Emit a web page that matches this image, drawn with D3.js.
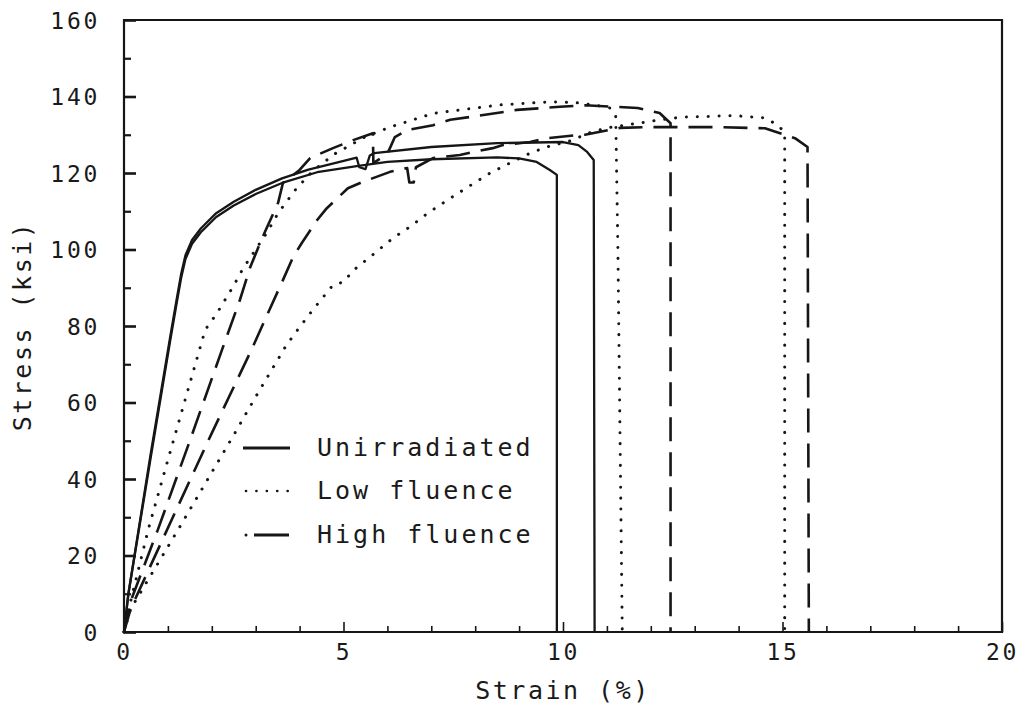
<!DOCTYPE html>
<html>
<head>
<meta charset="utf-8">
<script src="https://cdn.jsdelivr.net/npm/d3@7/dist/d3.min.js"></script>
<style>
  html, body { margin: 0; padding: 0; background: #fff; }
  svg { display: block; }
  .lbl { font-family: "DejaVu Sans Mono", monospace; fill: #1a1a1a; }
</style>
</head>
<body>
<svg id="chart" width="1022" height="714"></svg>
<script>
// Stress-strain curves, two specimens per condition: [strain %, stress ksi]
const seriesNames = ["Unirradiated", "Low fluence", "High fluence"];

const unirradiatedA = [
  [0,0],[0.05,5],[0.1,10],[0.6,45],[1.05,76],[1.2,86],[1.3,92.5],[1.4,97.5],[1.55,101.5],
  [1.75,104.5],[2.1,108.5],[2.5,111.5],[3.0,114.5],[3.6,117.4],[4.4,120.2],[5.3,121.8],
  [6.0,122.9],[7.0,123.6],[8.5,124.1],[9.0,123.8],[9.4,122.9],[9.7,120.8],[9.86,119.5],[9.86,0]
];
const unirradiatedB = [
  [0,0],[0.05,5],[0.1,10],[0.6,46],[1.05,77],[1.2,87],[1.3,93.5],[1.4,98.5],[1.55,102.5],
  [1.75,105.5],[2.1,109.5],[2.5,112.5],[3.0,115.6],[3.6,118.6],[4.2,120.9],[4.8,122.6],
  [5.3,124],[5.36,121.5],[5.5,121],[5.6,124.6],[5.7,125.2],[7.0,126.8],[8.5,127.8],
  [10.0,128.1],[10.35,127.3],[10.55,125.5],[10.7,123.4],[10.72,0]
];
const lowFluenceA = [
  [0,0],[0.15,8],[0.55,26.7],[1.0,45],[1.4,61],[1.85,79],[2.12,83.4],[2.48,90.2],
  [2.71,95],[3.0,100],[3.25,104.3],[3.51,109.5],[3.93,116],[4.3,120.5],[4.8,125],
  [5.5,129.5],[6.06,132],[7.05,135.6],[8.56,137.8],[9.7,138.6],[10.3,138.4],[10.8,137.6],
  [11.07,137],[11.2,135],[11.25,100],[11.3,50],[11.35,0]
];
const lowFluenceB = [
  [0,0],[0.15,6],[1.23,26.7],[2.5,51.5],[3.0,61.5],[3.7,75],[4.0,79.7],[4.3,84.2],
  [4.76,90.7],[5.0,91.5],[5.22,94.5],[5.6,98],[6.13,103],[6.51,105.9],[6.92,109.5],
  [7.3,112.4],[7.54,114.2],[8.34,120],[8.79,122.6],[9.25,125.2],[9.63,126.8],[10.2,128.5],
  [10.57,130.4],[11.0,131.8],[11.7,133],[12.2,133.9],[12.7,134.6],[13.9,135],[14.6,134.4],
  [14.9,132.5],[15.05,130.5],[15.05,0]
];
const highFluenceA = [
  [0,0],[0.15,8],[0.77,26.7],[1.5,50],[2.23,73.7],[2.64,86.8],[2.87,95.2],[3.1,101.7],
  [3.25,105.6],[3.51,112.2],[3.62,117.4],[4.0,120.8],[4.24,123.9],[4.76,126.5],[5.22,128.6],
  [5.67,130.4],[5.68,122.6],[6.0,125],[6.17,129.4],[6.45,131.2],[7.04,132.5],[7.43,133.9],
  [8.04,134.9],[8.95,136.5],[9.93,137.3],[10.5,137.7],[11.7,137],[12.2,135.7],[12.45,133],[12.45,0]
];
const highFluenceB = [
  [0,0],[0.15,6],[0.98,26.7],[2.0,52],[2.9,73.7],[3.21,81.6],[3.62,92],[3.85,98],
  [4.05,101.7],[4.4,107.7],[4.62,110.8],[5.1,116],[5.42,117.6],[6.06,120.3],[6.45,121.3],
  [6.5,117.5],[6.6,117.5],[6.65,121.5],[7.04,123.9],[7.65,124.7],[8.0,125.6],[8.4,126.5],
  [8.63,127.3],[9.25,128.1],[9.64,129.1],[10.3,129.9],[10.5,130],[11.3,131.8],[12.0,132],
  [13.5,132],[14.6,131.7],[15.3,129],[15.57,126.8],[15.6,0]
];

// Axis ticks and labels
const xMajorTicks = [0, 5, 10, 15, 20];
const xMinorTicks = d3.range(0, 21, 1);
const yMajorTicks = [0, 20, 40, 60, 80, 100, 120, 140, 160];
const yMinorTicks = [10, 30, 50, 70, 90, 110, 130, 150];
const xTitle = "Strain (%)";
const yTitle = "Stress (ksi)";

const curves = [
  { data: unirradiatedA, kind: 0 },
  { data: unirradiatedB, kind: 0 },
  { data: lowFluenceA, kind: 1 },
  { data: lowFluenceB, kind: 1 },
  { data: highFluenceA, kind: 2 },
  { data: highFluenceB, kind: 2 }
];

const ink = "#161616";
const styles = [
  { width: 2.3, dash: null, cap: "butt" },
  { width: 3, dash: "0.1,10.8", cap: "round" },
  { width: 2.6, dash: "24,11", cap: "butt" }
];

const svg = d3.select("#chart");
const plotLeft = 124, plotRight = 1002, plotTop = 20, plotBottom = 632;
const x = d3.scaleLinear().domain([0, 20]).range([plotLeft, plotRight]);
const y = d3.scaleLinear().domain([0, 160]).range([plotBottom, plotTop]);

// Curves
const line = d3.line().x(d => x(d[0])).y(d => y(d[1]));
svg.append("g").selectAll("path").data(curves).join("path")
  .attr("d", d => line(d.data))
  .attr("fill", "none")
  .attr("stroke", ink)
  .attr("stroke-width", d => styles[d.kind].width)
  .attr("stroke-dasharray", d => styles[d.kind].dash)
  .attr("stroke-linecap", d => styles[d.kind].cap)
  .attr("stroke-linejoin", "round");

// Frame
svg.append("path")
  .attr("d", `M${plotLeft},${plotBottom}V${plotTop}H${plotRight}V${plotBottom}Z`)
  .attr("fill", "none").attr("stroke", ink).attr("stroke-width", 2.2);

// Y axis: labelled major ticks and minor ticks, pointing inward
const yAxisMajor = d3.axisLeft(y).tickValues(yMajorTicks).tickSize(-12).tickPadding(24)
  .tickFormat(d3.format("d"));
const gy = svg.append("g").attr("transform", `translate(${plotLeft},0)`).call(yAxisMajor);
gy.select(".domain").remove();
gy.selectAll(".tick line").attr("stroke", ink).attr("stroke-width", 2.6);
gy.selectAll(".tick text").attr("class", "lbl")
  .style("font-size", "23px").style("letter-spacing", "2.7px").attr("dy", "0.36em");

const gyMinor = svg.append("g").attr("transform", `translate(${plotLeft},0)`)
  .call(d3.axisLeft(y).tickValues(yMinorTicks).tickSize(-7).tickFormat(""));
gyMinor.select(".domain").remove();
gyMinor.selectAll(".tick line").attr("stroke", ink).attr("stroke-width", 2.2);

// X axis
const xAxisMajor = d3.axisBottom(x).tickValues(xMajorTicks).tickSize(-10).tickPadding(12)
  .tickFormat(d3.format("d"));
const gx = svg.append("g").attr("transform", `translate(0,${plotBottom})`).call(xAxisMajor);
gx.select(".domain").remove();
gx.selectAll(".tick line").attr("stroke", ink).attr("stroke-width", 1.6);
gx.selectAll(".tick text").attr("class", "lbl")
  .style("font-size", "23px").style("letter-spacing", "2.7px");

const gxMinor = svg.append("g").attr("transform", `translate(0,${plotBottom})`)
  .call(d3.axisBottom(x).tickValues(xMinorTicks.filter(v => v % 5 !== 0)).tickSize(-6).tickFormat(""));
gxMinor.select(".domain").remove();
gxMinor.selectAll(".tick line").attr("stroke", ink).attr("stroke-width", 1.6);

// Axis titles
svg.append("text").attr("class", "lbl")
  .attr("x", (plotLeft + plotRight) / 2).attr("y", 699)
  .attr("text-anchor", "middle")
  .style("font-size", "25px").style("letter-spacing", "2.5px")
  .text(xTitle);

svg.append("text").attr("class", "lbl")
  .attr("transform", `translate(31,${(plotTop + plotBottom) / 2}) rotate(-90)`)
  .attr("text-anchor", "middle")
  .style("font-size", "25px").style("letter-spacing", "2.5px")
  .text(yTitle);

// Legend
const legendRows = [448, 491, 535];
const lg = svg.append("g");
seriesNames.forEach((name, i) => {
  const ly = legendRows[i];
  if (i === 0) {
    lg.append("line").attr("x1", 243).attr("x2", 290).attr("y1", ly).attr("y2", ly)
      .attr("stroke", ink).attr("stroke-width", 3);
  } else if (i === 1) {
    lg.append("line").attr("x1", 246).attr("x2", 288).attr("y1", ly).attr("y2", ly)
      .attr("stroke", ink).attr("stroke-width", 2.6)
      .attr("stroke-linecap", "round").attr("stroke-dasharray", "0.1,10.3");
  } else {
    lg.append("circle").attr("cx", 246).attr("cy", ly).attr("r", 1.5).attr("fill", ink);
    lg.append("line").attr("x1", 254).attr("x2", 289).attr("y1", ly).attr("y2", ly)
      .attr("stroke", ink).attr("stroke-width", 3);
  }
  lg.append("text").attr("class", "lbl")
    .attr("x", 317).attr("y", ly + 8)
    .style("font-size", "25px").style("letter-spacing", "3px")
    .text(name);
});
</script>
</body>
</html>
